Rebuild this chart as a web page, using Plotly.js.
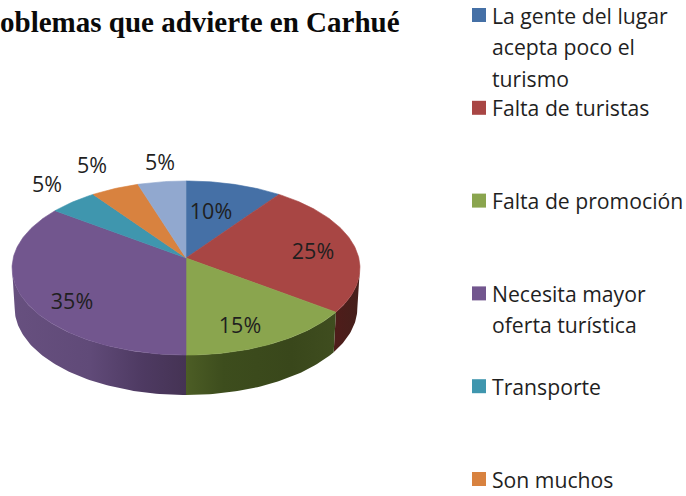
<!DOCTYPE html>
<html>
<head>
<meta charset="utf-8">
<script src="https://cdn.plot.ly/plotly-3.0.1.min.js"></script>
<style>html,body{margin:0;padding:0;background:#fff}#chart{width:686px;height:496px}</style>
</head>
<body>
<div id="chart"></div>
<script>
// ---- data ----
const titleText = 'oblemas que advierte en Carhué';
const values = [10, 25, 15, 35, 5, 5, 5];
const legendLines = [
  ['La gente del lugar', 'acepta poco el', 'turismo'],
  ['Falta de turistas'],
  ['Falta de promoción'],
  ['Necesita mayor', 'oferta turística'],
  ['Transporte'],
  ['Son muchos']
];

// ---- styling ----
const topColors = ['#4570a6', '#a84644', '#8aa54e', '#72568e', '#3f96ae', '#d8823f', '#91a8cf'];
const wallGradients = {
  1: [[0, '#4f1c1a'], [1, '#45201b']],
  2: [[0, '#4c5d25'], [0.25, '#3d4d1d'], [0.7, '#39471b'], [1, '#3f4d1f']],
  3: [[0, '#67507f'], [0.45, '#604a78'], [0.75, '#4e3a62'], [1, '#453354']]
};
const FONT = 'Open Sans, sans-serif';
const TEXT = '#1f1f1f';

// pie projection
const CX = 186, CY = 258, A = 172.8, B = 85.9, K = 0.115, DEPTH = 40, SHRINK = 0.985;
const rad = d => d * Math.PI / 180;
function topPt(deg) {
  const t = rad(deg), w = 1 + K * Math.cos(t);
  return [CX + A * Math.sin(t) / w, CY - B * Math.cos(t) / w];
}
function botPt(deg) {
  const p = topPt(deg);
  return [CX + (p[0] - CX) * SHRINK, p[1] + DEPTH];
}
function arc(fn, a, b) {
  const n = Math.max(2, Math.ceil(Math.abs(b - a)));
  const out = [];
  for (let i = 0; i <= n; i++) out.push(fn(a + (b - a) * i / n));
  return out;
}
const total = values.reduce((s, v) => s + v, 0);
let acc = 0;
const spans = values.map(v => { const s = [acc, acc + v / total * 360]; acc = s[1]; return s; });

const visA = Math.acos(-K) * 180 / Math.PI, visB = 360 - visA;
const traces = [];

// side walls (front of the disc)
spans.forEach((s, i) => {
  const a = Math.max(s[0], visA), b = Math.min(s[1], visB);
  if (a >= b || !wallGradients[i]) return;
  const pts = arc(topPt, a, b).concat(arc(botPt, b, a));
  pts.push(pts[0]);
  traces.push({
    type: 'scatter', mode: 'lines', hoverinfo: 'skip', showlegend: false,
    x: pts.map(p => p[0]), y: pts.map(p => p[1]),
    fill: 'toself', line: {width: 0, color: 'rgba(0,0,0,0)'},
    fillcolor: wallGradients[i][0][1],
    fillgradient: {type: 'horizontal', colorscale: wallGradients[i]}
  });
});

// top wedges
spans.forEach((s, i) => {
  const pts = [[CX, CY]].concat(arc(topPt, s[0], s[1]));
  pts.push([CX, CY]);
  traces.push({
    type: 'scatter', mode: 'lines', hoverinfo: 'skip', showlegend: false,
    x: pts.map(p => p[0]), y: pts.map(p => p[1]),
    fill: 'toself', fillcolor: topColors[i], line: {width: 0.6, color: topColors[i]}
  });
});

// percentage labels
const labelX = [211, 313, 240, 72, 47, 92, 160];
const labelY = [214, 254, 328, 304, 187, 168, 165];
traces.push({
  type: 'scatter', mode: 'text', hoverinfo: 'skip', showlegend: false,
  x: labelX, y: labelY, text: values.map(v => v + '%'),
  textposition: 'middle center', textfont: {family: FONT, size: 21.5, color: TEXT}
});

// legend swatches + text
const LEG_X = 479, LEG_TOP = 15, LEG_STEP = 92.8, LINE_STEP = 31.5, TXT_X = 492;
traces.push({
  type: 'scatter', mode: 'markers', hoverinfo: 'skip', showlegend: false,
  x: legendLines.map(() => LEG_X), y: legendLines.map((_, i) => LEG_TOP + i * LEG_STEP),
  marker: {symbol: 'square', size: 14, color: topColors.slice(0, legendLines.length), line: {width: 0}}
});
const annotations = [];
legendLines.forEach((lines, i) => lines.forEach((ln, j) => annotations.push({
  xref: 'x', yref: 'y', x: TXT_X, y: LEG_TOP + i * LEG_STEP + j * LINE_STEP,
  text: ln, showarrow: false, xanchor: 'left', yanchor: 'middle',
  align: 'left', xshift: -2,
  font: {family: FONT, size: 21.2, color: TEXT}
})));

const layout = {
  width: 686, height: 496,
  margin: {l: 0, r: 0, t: 0, b: 0},
  paper_bgcolor: '#fff', plot_bgcolor: '#fff',
  showlegend: false,
  title: {
    text: '<b>' + titleText + '</b>', x: 0, xref: 'paper', xanchor: 'left',
    y: 1 - 22 / 496, yref: 'paper', yanchor: 'middle', pad: {l: 0, r: 0, t: 0, b: 0},
    font: {family: 'Liberation Serif, serif', size: 29, color: '#0a0a0a'}
  },
  xaxis: {range: [0, 686], visible: false, fixedrange: true},
  yaxis: {range: [496, 0], visible: false, fixedrange: true},
  annotations
};
Plotly.newPlot('chart', traces, layout, {displayModeBar: false, staticPlot: true});
</script>
</body>
</html>
